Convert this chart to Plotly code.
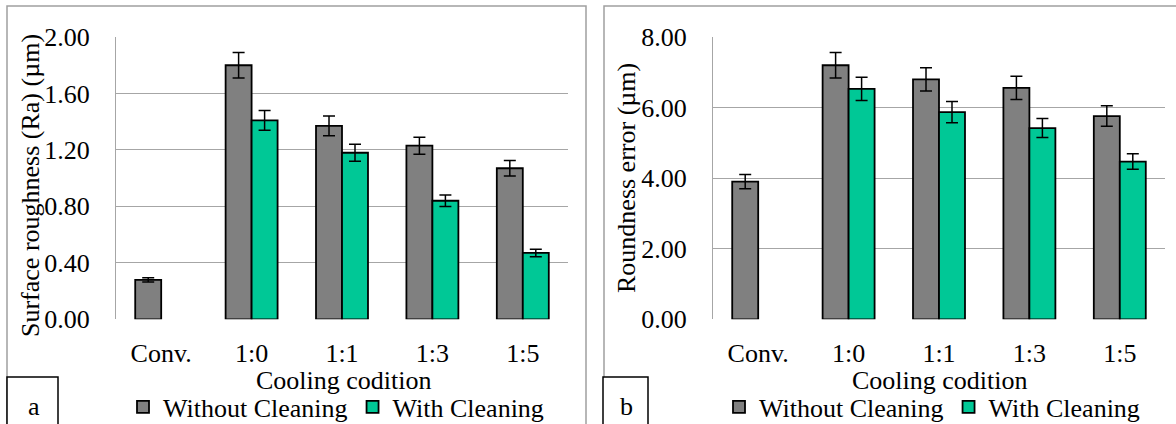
import plotly.graph_objects as go

categories = ["Conv.", "1:0", "1:1", "1:3", "1:5"]

ra_without = [0.28, 1.80, 1.37, 1.23, 1.07]
ra_without_err = [0.015, 0.09, 0.07, 0.06, 0.055]
ra_with = [None, 1.41, 1.18, 0.84, 0.47]
ra_with_err = [0, 0.07, 0.06, 0.04, 0.026]

rd_without = [3.90, 7.20, 6.80, 6.56, 5.76]
rd_without_err = [0.20, 0.36, 0.33, 0.33, 0.29]
rd_with = [None, 6.53, 5.87, 5.42, 4.47]
rd_with_err = [0, 0.33, 0.30, 0.27, 0.22]

ra_ticks = [0.0, 0.4, 0.8, 1.2, 1.6, 2.0]
rd_ticks = [0.0, 2.0, 4.0, 6.0, 8.0]

W, H = 1176, 424
GRAY = "#808080"
GREEN = "#00C896"
FONT = "Liberation Serif"
FS = 26


def px(x):
    return x / W


def py(y):
    return 1 - y / H


fig = go.Figure()


def add_bar(x, y, err, name, color, xa, ya, legend):
    fig.add_trace(go.Bar(
        x=x, y=y, name=name, xaxis=xa, yaxis=ya, legend=legend,
        marker=dict(color=color, line=dict(color="black", width=1.8)),
        error_y=dict(type="data", array=err, visible=True,
                     color="black", thickness=1.5, width=6),
    ))


add_bar(categories, ra_without, ra_without_err, "Without Cleaning", GRAY, "x", "y", "legend")
add_bar(categories, ra_with, ra_with_err, "With Cleaning", GREEN, "x", "y", "legend")
add_bar(categories, rd_without, rd_without_err, "Without Cleaning", GRAY, "x2", "y2", "legend2")
add_bar(categories, rd_with, rd_with_err, "With Cleaning", GREEN, "x2", "y2", "legend2")

tickfont = dict(family=FONT, size=FS, color="black")
ydom = [py(319.3), py(37)]

xcommon = dict(type="category", showgrid=False, showline=False,
               ticks="outside", ticklen=10, tickcolor="rgba(0,0,0,0)",
               tickfont=tickfont, zeroline=False, automargin=False)
ycommon = dict(showgrid=True, gridcolor="#A6A6A6", gridwidth=1,
               showline=True, linecolor="#A6A6A6", linewidth=1,
               ticks="outside", ticklen=20, tickcolor="rgba(0,0,0,0)",
               tickfont=tickfont, tickformat=".2f",
               zeroline=False, domain=ydom, automargin=False)

fig.update_layout(
    width=W, height=H,
    margin=dict(l=0, r=0, t=0, b=0, pad=0, autoexpand=False),
    paper_bgcolor="white", plot_bgcolor="white",
    barmode="group", bargap=0.425, bargroupgap=0,
    font=dict(family=FONT, size=FS, color="black"),
    xaxis=dict(domain=[px(116), px(568)], anchor="y", **xcommon),
    yaxis=dict(anchor="x", range=[0, 2.0], tickvals=ra_ticks, **ycommon),
    xaxis2=dict(domain=[px(713), px(1165)], anchor="y2", **xcommon),
    yaxis2=dict(anchor="x2", range=[0, 8.0], tickvals=rd_ticks, **ycommon),
    legend=dict(orientation="h", x=px(123), y=py(407), xanchor="left", yanchor="middle",
                font=dict(family=FONT, size=FS), bgcolor="rgba(0,0,0,0)",
                itemclick=False, tracegroupgap=0),
    legend2=dict(orientation="h", x=px(719), y=py(407), xanchor="left", yanchor="middle",
                 font=dict(family=FONT, size=FS), bgcolor="rgba(0,0,0,0)",
                 itemclick=False, tracegroupgap=0),
)

# panel borders
fig.add_shape(type="rect", xref="paper", yref="paper",
              x0=px(7), x1=px(586), y0=-0.2, y1=py(6),
              line=dict(color="#A0A0A0", width=1.5), fillcolor="rgba(0,0,0,0)", layer="below")
fig.add_shape(type="rect", xref="paper", yref="paper",
              x0=px(604), x1=1.2, y0=-0.2, y1=py(6),
              line=dict(color="#A0A0A0", width=1.5), fillcolor="rgba(0,0,0,0)", layer="below")
# label boxes
fig.add_shape(type="rect", xref="paper", yref="paper",
              x0=px(7), x1=px(58), y0=-0.2, y1=py(377),
              line=dict(color="black", width=1.5), fillcolor="white")
fig.add_shape(type="rect", xref="paper", yref="paper",
              x0=px(603), x1=px(648), y0=-0.2, y1=py(377),
              line=dict(color="black", width=1.5), fillcolor="white")

ann = dict(xref="paper", yref="paper", showarrow=False,
           font=dict(family=FONT, size=FS, color="black"))
fig.add_annotation(text="a", x=px(34), y=py(406), xanchor="center", yanchor="middle", **ann)
fig.add_annotation(text="b", x=px(626), y=py(406), xanchor="center", yanchor="middle", **ann)
fig.add_annotation(text="Cooling codition", x=px(344), y=py(380), xanchor="center", yanchor="middle", **ann)
fig.add_annotation(text="Cooling codition", x=px(940), y=py(380), xanchor="center", yanchor="middle", **ann)
fig.add_annotation(text="Surface roughness (Ra) (µm)", textangle=-90, x=px(31), y=py(186),
                   xanchor="center", yanchor="middle", **ann)
fig.add_annotation(text="Roundness error (µm)", textangle=-90, x=px(627), y=py(178),
                   xanchor="center", yanchor="middle", **ann)

fig.write_html("out.html")
